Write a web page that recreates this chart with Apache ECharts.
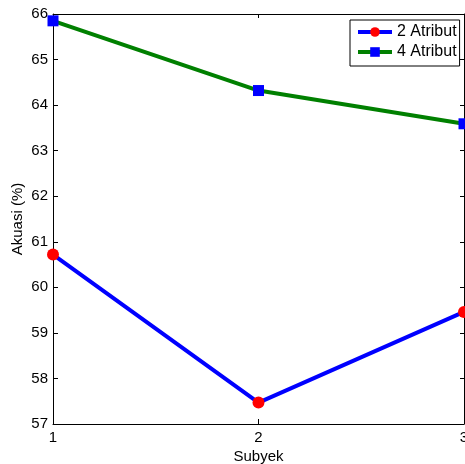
<!DOCTYPE html>
<html>
<head>
<meta charset="utf-8">
<script src="https://cdn.jsdelivr.net/npm/echarts@6/dist/echarts.min.js"></script>
<style>
  html, body { margin: 0; padding: 0; background: #fff; }
  #chart { width: 465px; height: 464px; }
</style>
</head>
<body>
<div id="chart"></div>
<script>
  // data
  var subjects = [1, 2, 3]
  var atribut2 = [60.72, 57.47, 59.46]
  var atribut4 = [65.85, 64.32, 63.59]
  var yTicks = { min: 57, max: 66, step: 1 }

  var chart = echarts.init(document.getElementById('chart'))
  var font = 'Liberation Sans, Arial, sans-serif'

  function pairs(vals) {
    return subjects.map(function (s, i) { return [s, vals[i]] })
  }

  var axisCommon = {
    axisLine: { show: true, lineStyle: { color: '#000', width: 1 } },
    axisTick: { show: true, inside: true, length: 5, lineStyle: { color: '#000' } },
    splitLine: { show: false },
    axisLabel: { color: '#000', fontSize: 15, fontFamily: font },
    nameTextStyle: { color: '#000', fontSize: 15, fontFamily: font }
  }

  // mirrored axes for the box ticks on top / right (no labels)
  var mirror = {
    axisLine: { show: true, lineStyle: { color: '#000', width: 1 } },
    axisTick: { show: true, inside: true, length: 4, lineStyle: { color: '#000' } },
    axisLabel: { show: false },
    splitLine: { show: false }
  }

  chart.setOption({
    animation: false,
    backgroundColor: '#fff',
    grid: {
      left: 53, right: 1, top: 14, bottom: 40,
      outerBoundsMode: 'none',
      containLabel: false
    },
    legend: {
      left: 350, top: 20,
      orient: 'vertical',
      backgroundColor: '#fff',
      borderColor: '#000', borderWidth: 1,
      borderRadius: 0,
      padding: [4, 3, 6, 6],
      itemGap: 4,
      itemWidth: 34, itemHeight: 12,
      lineStyle: { width: 4 },
      textStyle: { color: '#000', fontSize: 16, fontFamily: font },
      data: ['2 Atribut', '4 Atribut']
    },
    xAxis: [
      Object.assign({}, axisCommon, {
        type: 'value',
        min: 1, max: 3, interval: 1,
        name: 'Subyek',
        nameLocation: 'middle',
        nameGap: 25,
        nameMoveOverlap: false,
        axisLabel: Object.assign({}, axisCommon.axisLabel, { margin: 6 })
      }),
      Object.assign({}, mirror, {
        type: 'value', position: 'top',
        min: 1, max: 3, interval: 1
      })
    ],
    yAxis: [
      Object.assign({}, axisCommon, {
        type: 'value',
        min: yTicks.min, max: yTicks.max, interval: yTicks.step,
        name: 'Akuasi (%)',
        nameLocation: 'middle',
        nameGap: 28,
        nameMoveOverlap: false,
        axisLabel: Object.assign({}, axisCommon.axisLabel, { margin: 5 })
      }),
      Object.assign({}, mirror, {
        type: 'value', position: 'right',
        min: yTicks.min, max: yTicks.max, interval: yTicks.step
      })
    ],
    series: [
      {
        name: '2 Atribut',
        type: 'line',
        data: pairs(atribut2),
        symbol: 'circle',
        symbolSize: 12,
        lineStyle: { color: '#0000ff', width: 4 },
        itemStyle: { color: '#ff0000' }
      },
      {
        name: '4 Atribut',
        type: 'line',
        data: pairs(atribut4),
        symbol: 'rect',
        symbolSize: 11,
        lineStyle: { color: '#008000', width: 4 },
        itemStyle: { color: '#0000ff' }
      }
    ]
  })
</script>
</body>
</html>
